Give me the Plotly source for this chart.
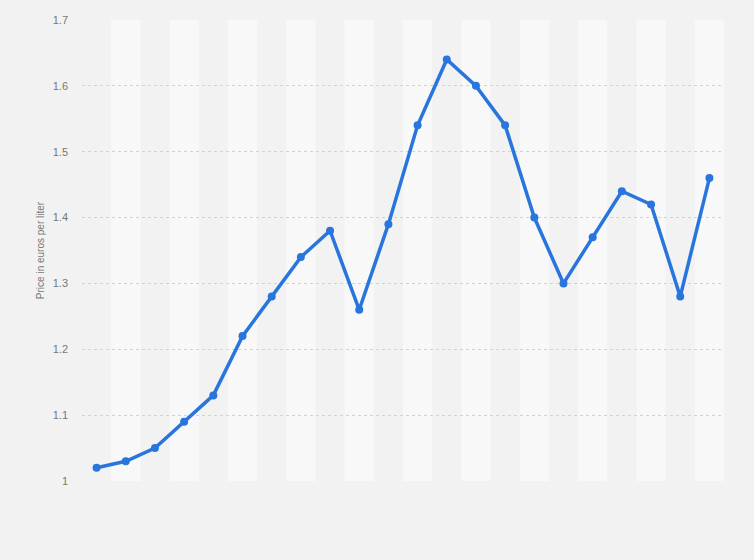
import plotly.graph_objects as go

years = [str(y) for y in range(2001, 2023)]
prices = [1.02, 1.03, 1.05, 1.09, 1.13, 1.22, 1.28, 1.34, 1.38, 1.26, 1.39,
          1.54, 1.64, 1.60, 1.54, 1.40, 1.30, 1.37, 1.44, 1.42, 1.28, 1.46]
y_ticks = [1, 1.1, 1.2, 1.3, 1.4, 1.5, 1.6, 1.7]
y_ticktext = ["1", "1.1", "1.2", "1.3", "1.4", "1.5", "1.6", "1.7"]

fig = go.Figure()
fig.add_trace(go.Scatter(
    x=list(range(len(years))), y=prices, mode="lines+markers",
    line=dict(color="#2876dd", width=3.5),
    marker=dict(color="#2876dd", size=8),
    hovertext=years, showlegend=False,
))

shapes = []
for i in range(len(years)):
    if i % 2 == 1:
        shapes.append(dict(type="rect", xref="x", yref="y", x0=i - 0.5, x1=i + 0.5,
                           y0=1, y1=1.7, fillcolor="#f8f8f8", line=dict(width=0),
                           layer="below"))

fig.update_layout(
    width=754, height=560,
    margin=dict(l=82, r=30, t=19.5, b=79),
    paper_bgcolor="#f2f2f2", plot_bgcolor="#f2f2f2",
    shapes=shapes,
    font=dict(family="Liberation Sans, Arial, sans-serif", color="#666666", size=10),
    xaxis=dict(range=[-0.5, len(years) - 0.5], showticklabels=False, showgrid=False,
               zeroline=False, showline=False),
    yaxis=dict(range=[1, 1.7], tickvals=y_ticks, ticktext=y_ticktext,
               showgrid=True, gridcolor="#d2d2d2", griddash="dot", gridwidth=1,
               zeroline=False, showline=False, ticklabelstandoff=13,
               tickfont=dict(size=11, color="#777777"),
               title=dict(text="Price in euros per liter", font=dict(size=10, color="#777777"),
                          standoff=6)),
)
fig.write_html("out.html", config={"displayModeBar": False},
               post_script="document.body.style.margin='0';document.body.style.background='#f2f2f2';")
